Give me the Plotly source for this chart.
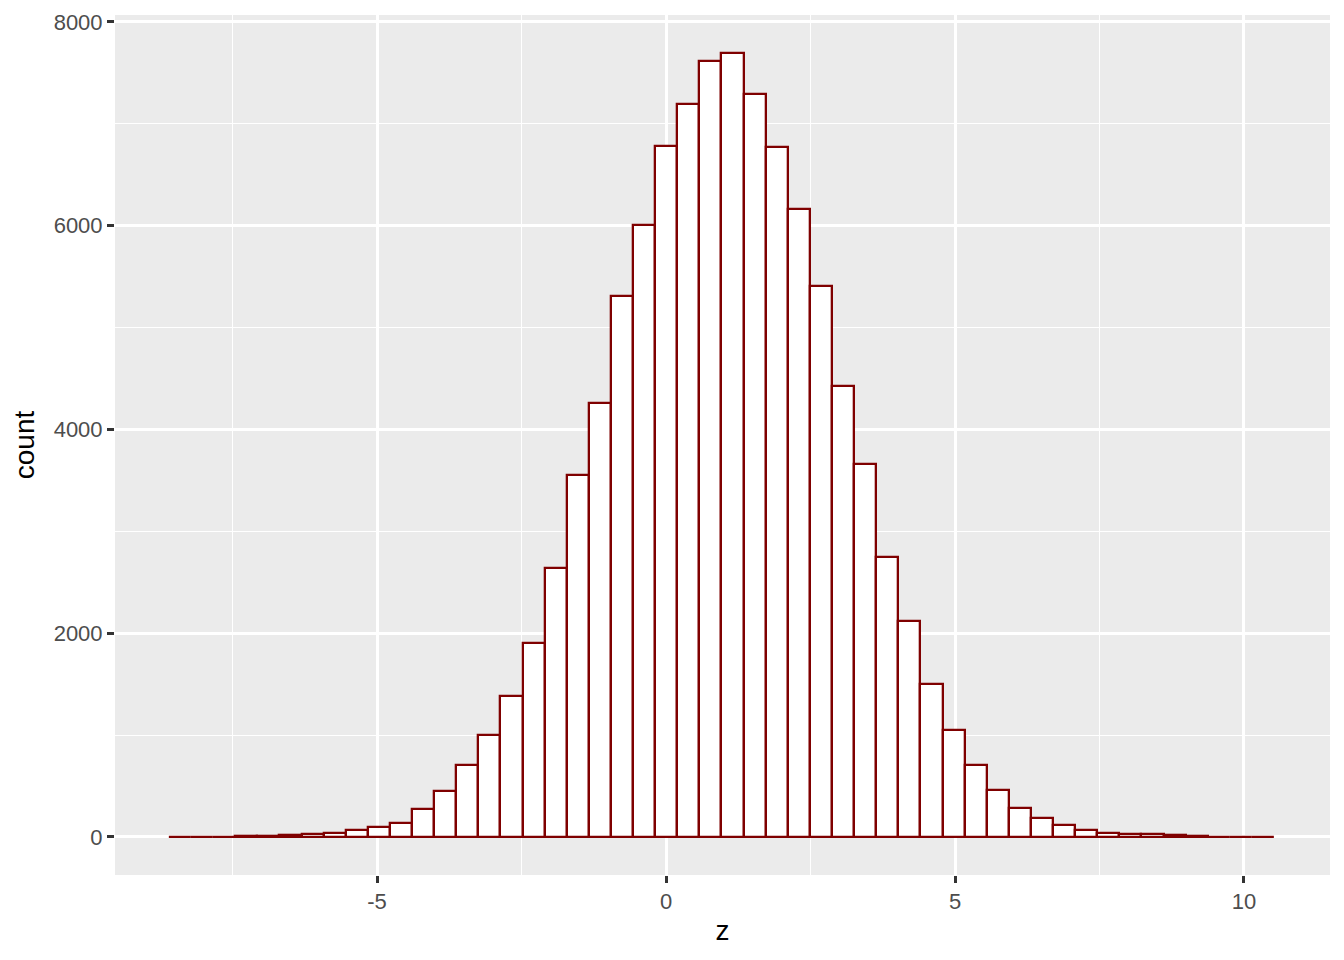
import plotly.graph_objects as go

# histogram bins (50 bins)
bin_start = -8.6
bin_width = 0.3824
counts = [1, 1, 2, 5, 10, 15, 25, 35, 65, 100,
          140, 275, 450, 705, 1000, 1385, 1905, 2640, 3550, 4260,
          5310, 6005, 6780, 7190, 7615, 7690, 7290, 6770, 6160, 5405,
          4425, 3660, 2745, 2120, 1500, 1050, 705, 465, 282, 183,
          118, 65, 42, 29, 29, 15, 6, 3, 2, 2]
centers = [bin_start + bin_width * (i + 0.5) for i in range(len(counts))]

x_ticks = [-5, 0, 5, 10]
x_tick_labels = ["-5", "0", "5", "10"]
y_ticks = [0, 2000, 4000, 6000, 8000]
y_tick_labels = ["0", "2000", "4000", "6000", "8000"]

fig = go.Figure()
fig.add_trace(go.Bar(
    x=centers, y=counts, width=bin_width,
    marker=dict(color="white", line=dict(color="#7F0000", width=2.3)),
    showlegend=False,
))

font = "Liberation Sans, Arial, Helvetica, sans-serif"
fig.update_layout(
    width=1328, height=944,
    margin=dict(l=107, r=6, t=7, b=77, autoexpand=False),
    paper_bgcolor="white",
    plot_bgcolor="#EBEBEB",
    bargap=0,
    font=dict(family=font, size=22, color="#4D4D4D"),
    xaxis=dict(
        range=[-9.533, 11.488],
        tickvals=x_ticks, ticktext=x_tick_labels,
        showgrid=True, gridcolor="white", gridwidth=2.6,
        minor=dict(dtick=2.5, tick0=-7.5, showgrid=True, gridcolor="white", gridwidth=1.3, ticks=""),
        ticks="outside", ticklen=7, tickwidth=2.6, tickcolor="#333333",
        tickfont=dict(size=22, color="#4D4D4D"),
        zeroline=False, showline=False, automargin=False,
        title=dict(text="z", font=dict(size=28, color="black"), standoff=6),
    ),
    yaxis=dict(
        range=[-373, 8067],
        tickvals=y_ticks, ticktext=y_tick_labels,
        showgrid=True, gridcolor="white", gridwidth=2.6,
        minor=dict(dtick=1000, tick0=1000, showgrid=True, gridcolor="white", gridwidth=1.3, ticks=""),
        ticks="outside", ticklen=7, tickwidth=2.6, tickcolor="#333333",
        tickfont=dict(size=22, color="#4D4D4D"),
        zeroline=False, showline=False, automargin=False,
        title=dict(text="count", font=dict(size=28, color="black"), standoff=10),
    ),
)

fig.write_html("out.html")
